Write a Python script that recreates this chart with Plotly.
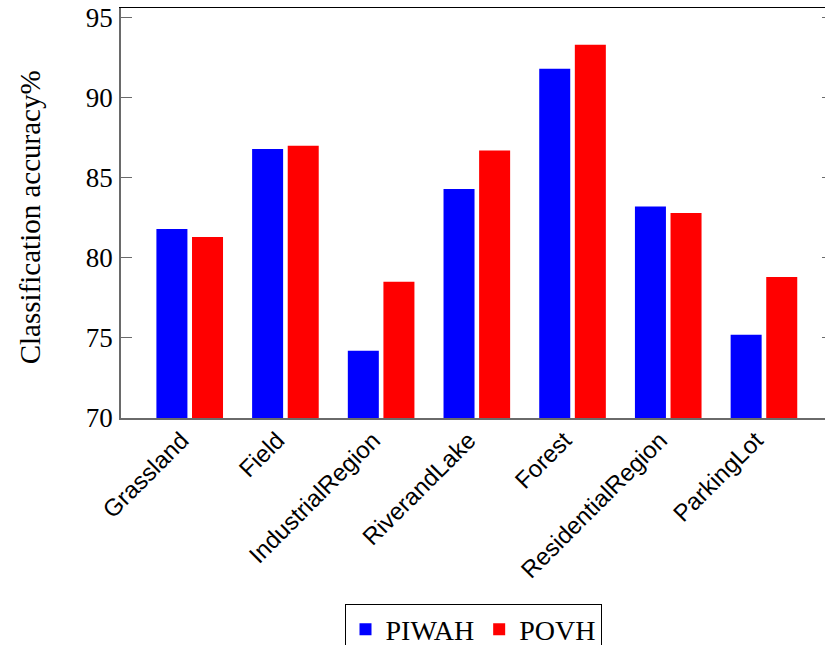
import plotly.graph_objects as go

# Scene categories and per-method classification accuracy (%)
categories = ["Grassland", "Field", "IndustrialRegion", "RiverandLake",
              "Forest", "ResidentialRegion", "ParkingLot"]
piwah = [81.8, 86.8, 74.2, 84.3, 91.8, 83.2, 75.2]
povh = [81.3, 87.0, 78.5, 86.7, 93.3, 82.8, 78.8]
y_ticks = [70, 75, 80, 85, 90, 95]

serif = "Liberation Serif, Times New Roman, serif"
sans = "Liberation Sans, Arial, sans-serif"

x_range = [-0.718, 6.638]
y_range = [70, 95.6]

fig = go.Figure()
fig.add_trace(go.Bar(x=categories, y=piwah, name="PIWAH",
                     marker=dict(color="#0000ff", line=dict(width=0))))
fig.add_trace(go.Bar(x=categories, y=povh, name="POVH",
                     marker=dict(color="#ff0000", line=dict(width=0))))
# empty traces so the mirrored right/top axes get drawn
fig.add_trace(go.Scatter(x=[], y=[], yaxis="y2", showlegend=False, hoverinfo="skip"))
fig.add_trace(go.Scatter(x=[], y=[], xaxis="x2", showlegend=False, hoverinfo="skip"))

fig.update_layout(
    width=825, height=645,
    font=dict(family=serif, color="black"),
    margin=dict(l=121, r=0, t=8, b=227, autoexpand=False),
    paper_bgcolor="white", plot_bgcolor="white",
    barmode="group", bargap=0.256, bargroupgap=0.129,
    xaxis=dict(
        type="category", range=x_range, automargin=False,
        showline=True, linecolor="#6a6a6a", linewidth=1.6,
        ticks="", showgrid=False, zeroline=False,
        tickangle=-45, tickfont=dict(family=sans, size=24, color="black"),
        ticklabelstandoff=-3, ticklabelshift=-8,
    ),
    xaxis2=dict(
        overlaying="x", side="top", anchor="y", range=x_range, automargin=False,
        showline=True, linecolor="black", linewidth=1,
        showticklabels=False, ticks="", showgrid=False, zeroline=False,
    ),
    yaxis=dict(
        range=y_range, tickvals=y_ticks, automargin=False,
        showline=True, linecolor="#6a6a6a", linewidth=1.6,
        ticks="inside", ticklen=11, tickcolor="#6a6a6a", tickwidth=1,
        showgrid=False, zeroline=False,
        tickfont=dict(family=serif, size=27, color="black"),
        ticklabelstandoff=1,
    ),
    yaxis2=dict(
        overlaying="y", side="right", anchor="x", range=y_range, tickvals=y_ticks,
        showline=False, ticks="inside", ticklen=3, tickcolor="#6a6a6a", tickwidth=1,
        showticklabels=False, showgrid=False, zeroline=False, automargin=False,
    ),
    legend=dict(
        orientation="h", x=0.5, xanchor="center", y=-0.4526, yanchor="top",
        bordercolor="black", borderwidth=1, bgcolor="white",
        font=dict(family=serif, size=28, color="black"),
        itemsizing="constant", itemwidth=30, tracegroupgap=0,
    ),
    annotations=[dict(
        text="Classification accuracy%", textangle=-90,
        xref="paper", yref="paper", x=-0.129, y=0.49,
        xanchor="center", yanchor="middle", showarrow=False,
        font=dict(family=serif, size=29, color="black"),
    )],
    showlegend=True,
)

fig.write_html("out.html")
